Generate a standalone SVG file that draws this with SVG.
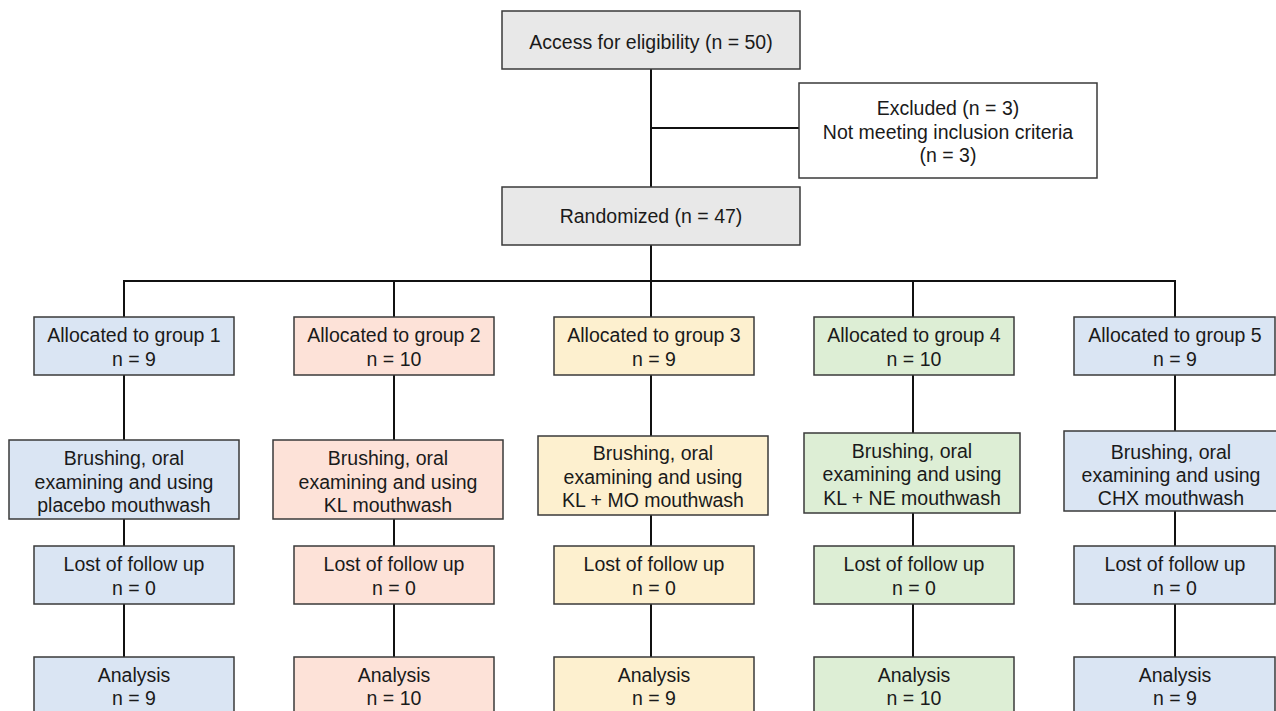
<svg xmlns="http://www.w3.org/2000/svg" width="1276" height="711" viewBox="0 0 1276 711">
<style>
.box{stroke:#3a3a3a;stroke-width:1.5}
.gray{fill:#e8e8e8}
.white{fill:#ffffff}
.blue{fill:#dae5f3}
.pink{fill:#fde2d8}
.yellow{fill:#fdf0cf}
.green{fill:#ddeed5}
text{font-family:"Liberation Sans",Arial,sans-serif;font-size:19.5px;fill:#1a1a1a;text-anchor:middle}
.conn{stroke:#111;stroke-width:2;fill:none}
</style>
<rect width="1276" height="711" fill="#ffffff"/>
<g id="connectors">
<path class="conn" d="M651 69 V187"/>
<path class="conn" d="M651 128 H799"/>
<path class="conn" d="M651 245 V281"/>
<path class="conn" d="M124 317 V281 H1175 V317"/>
<path class="conn" d="M394 281 V317"/>
<path class="conn" d="M913 281 V317"/>
<path class="conn" d="M651 281 V317"/>
<path class="conn" d="M124 375 V440 M124 519 V546 M124 604 V657"/>
<path class="conn" d="M394 375 V440 M394 519 V546 M394 604 V657"/>
<path class="conn" d="M651 375 V436 M651 515 V546 M651 604 V657"/>
<path class="conn" d="M913 375 V433 M913 513 V546 M913 604 V657"/>
<path class="conn" d="M1175 375 V431 M1175 511 V546 M1175 604 V657"/>
</g>
<g id="access">
<rect class="box gray" x="502" y="11" width="298" height="58"/>
<text x="651" y="49">Access for eligibility (n = 50)</text>
</g>
<g id="excluded">
<rect class="box white" x="799" y="83" width="298" height="95"/>
<text x="948" y="115">Excluded (n = 3)</text>
<text x="948" y="139">Not meeting inclusion criteria</text>
<text x="948" y="162">(n = 3)</text>
</g>
<g id="randomized">
<rect class="box gray" x="502" y="187" width="298" height="58"/>
<text x="651" y="223">Randomized (n = 47)</text>
</g>
<g id="alloc1">
<rect class="box blue" x="34" y="317" width="200" height="58"/>
<text x="134" y="342">Allocated to group 1</text>
<text x="134" y="366">n = 9</text>
</g>
<g id="alloc2">
<rect class="box pink" x="294" y="317" width="200" height="58"/>
<text x="394" y="342">Allocated to group 2</text>
<text x="394" y="366">n = 10</text>
</g>
<g id="alloc3">
<rect class="box yellow" x="554" y="317" width="200" height="58"/>
<text x="654" y="342">Allocated to group 3</text>
<text x="654" y="366">n = 9</text>
</g>
<g id="alloc4">
<rect class="box green" x="814" y="317" width="200" height="58"/>
<text x="914" y="342">Allocated to group 4</text>
<text x="914" y="366">n = 10</text>
</g>
<g id="alloc5">
<rect class="box blue" x="1074" y="317" width="201" height="58"/>
<text x="1175" y="342">Allocated to group 5</text>
<text x="1175" y="366">n = 9</text>
</g>
<g id="brush1">
<rect class="box blue" x="9" y="440" width="230" height="79"/>
<text x="124" y="465">Brushing, oral</text>
<text x="124" y="489">examining and using</text>
<text x="124" y="512">placebo mouthwash</text>
</g>
<g id="brush2">
<rect class="box pink" x="273" y="440" width="230" height="79"/>
<text x="388" y="465">Brushing, oral</text>
<text x="388" y="489">examining and using</text>
<text x="388" y="512">KL mouthwash</text>
</g>
<g id="brush3">
<rect class="box yellow" x="538" y="436" width="230" height="79"/>
<text x="653" y="460">Brushing, oral</text>
<text x="653" y="484">examining and using</text>
<text x="653" y="507">KL + MO mouthwash</text>
</g>
<g id="brush4">
<rect class="box green" x="804" y="433" width="216" height="80"/>
<text x="912" y="458">Brushing, oral</text>
<text x="912" y="481">examining and using</text>
<text x="912" y="505">KL + NE mouthwash</text>
</g>
<g id="brush5">
<rect class="box blue" x="1064" y="431" width="215" height="80"/>
<text x="1171" y="459">Brushing, oral</text>
<text x="1171" y="482">examining and using</text>
<text x="1171" y="505">CHX mouthwash</text>
</g>
<g id="lost1">
<rect class="box blue" x="34" y="546" width="200" height="58"/>
<text x="134" y="571">Lost of follow up</text>
<text x="134" y="595">n = 0</text>
</g>
<g id="lost2">
<rect class="box pink" x="294" y="546" width="200" height="58"/>
<text x="394" y="571">Lost of follow up</text>
<text x="394" y="595">n = 0</text>
</g>
<g id="lost3">
<rect class="box yellow" x="554" y="546" width="200" height="58"/>
<text x="654" y="571">Lost of follow up</text>
<text x="654" y="595">n = 0</text>
</g>
<g id="lost4">
<rect class="box green" x="814" y="546" width="200" height="58"/>
<text x="914" y="571">Lost of follow up</text>
<text x="914" y="595">n = 0</text>
</g>
<g id="lost5">
<rect class="box blue" x="1074" y="546" width="201" height="58"/>
<text x="1175" y="571">Lost of follow up</text>
<text x="1175" y="595">n = 0</text>
</g>
<g id="analysis1">
<rect class="box blue" x="34" y="657" width="200" height="70"/>
<text x="134" y="682">Analysis</text>
<text x="134" y="705">n = 9</text>
</g>
<g id="analysis2">
<rect class="box pink" x="294" y="657" width="200" height="70"/>
<text x="394" y="682">Analysis</text>
<text x="394" y="705">n = 10</text>
</g>
<g id="analysis3">
<rect class="box yellow" x="554" y="657" width="200" height="70"/>
<text x="654" y="682">Analysis</text>
<text x="654" y="705">n = 9</text>
</g>
<g id="analysis4">
<rect class="box green" x="814" y="657" width="200" height="70"/>
<text x="914" y="682">Analysis</text>
<text x="914" y="705">n = 10</text>
</g>
<g id="analysis5">
<rect class="box blue" x="1074" y="657" width="201" height="70"/>
<text x="1175" y="682">Analysis</text>
<text x="1175" y="705">n = 9</text>
</g>
</svg>
